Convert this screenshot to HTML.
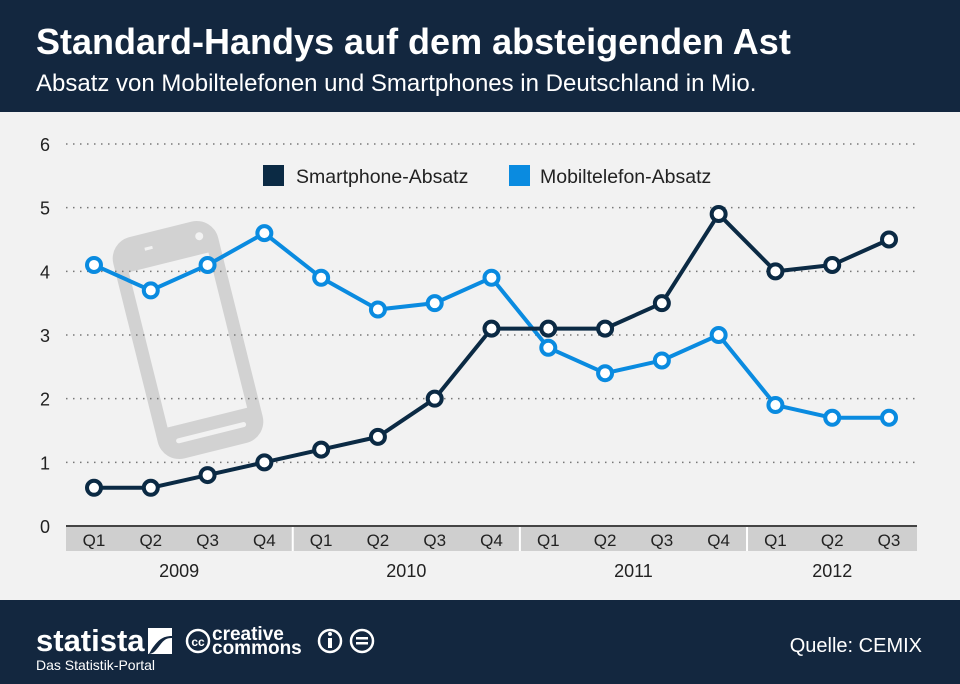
<!DOCTYPE html>
<html><head><meta charset="utf-8">
<style>
body{margin:0;width:960px;height:684px;overflow:hidden;background:#f2f2f2;font-family:"Liberation Sans",sans-serif}
svg{display:block}
</style></head><body>
<svg width="960" height="684">
<rect x="0" y="0" width="960" height="112" fill="#13273f"/>
<text x="36" y="54" fill="#fff" font-size="36" font-weight="bold">Standard-Handys auf dem absteigenden Ast</text>
<text x="36" y="91" fill="#fff" font-size="24">Absatz von Mobiltelefonen und Smartphones in Deutschland in Mio.</text>
<rect x="0" y="112" width="960" height="488" fill="#f2f2f2"/>
<g transform="translate(188,340) rotate(-14)">
<rect x="-54" y="-114" width="108" height="228" rx="22" fill="#d2d2d2"/>
<rect x="-41" y="-80" width="82" height="160" fill="#f2f2f2"/>
<rect x="-36" y="93" width="72" height="5" rx="2.5" fill="#f2f2f2"/>
<circle cx="36" cy="-98" r="4" fill="#f2f2f2"/>
<rect x="-20" y="-100" width="8" height="3" fill="#f2f2f2"/>
</g>
<g id="grid"></g>
<rect x="66" y="527" width="851" height="24" fill="#cfcfcf"/>
<line x1="66" y1="526" x2="917" y2="526" stroke="#444" stroke-width="2"/>
<g id="xaxis"></g>
<g id="series"></g>
<g>
<rect x="263" y="165" width="21" height="21" fill="#0b2a44"/>
<text x="296" y="183" font-size="19.5" fill="#222">Smartphone-Absatz</text>
<rect x="509" y="165" width="21" height="21" fill="#0a8be0"/>
<text x="540" y="183" font-size="19.5" fill="#222">Mobiltelefon-Absatz</text>
</g>
<rect x="0" y="600" width="960" height="84" fill="#13273f"/>
<text x="36" y="651" fill="#fff" font-size="31" font-weight="bold">statista</text>
<path d="M148 628h24v8c-10 0-14 5-18 10s-4 8-6 8zM172 638v16h-24c6 0 8-4 12-9s6-7 12-7z" fill="#fff"/>
<text x="36" y="670" fill="#fff" font-size="14">Das Statistik-Portal</text>
<circle cx="198" cy="641" r="11" fill="none" stroke="#fff" stroke-width="2.5"/>
<text x="198" y="646" text-anchor="middle" fill="#fff" font-size="12" font-weight="bold">cc</text>
<text x="212" y="640" fill="#fff" font-size="19" font-weight="bold">creative</text>
<text x="212" y="654" fill="#fff" font-size="19" font-weight="bold">commons</text>
<circle cx="330" cy="641" r="11" fill="none" stroke="#fff" stroke-width="2.5"/>
<rect x="328" y="638" width="4" height="10" fill="#fff"/><circle cx="330" cy="634" r="2" fill="#fff"/>
<circle cx="362" cy="641" r="11" fill="none" stroke="#fff" stroke-width="2.5"/>
<rect x="356" y="637" width="12" height="2.5" fill="#fff"/><rect x="356" y="642" width="12" height="2.5" fill="#fff"/>
<text x="922" y="652" text-anchor="end" fill="#fff" font-size="20">Quelle: CEMIX</text>
</svg>
<script>
const categories=["Q1","Q2","Q3","Q4","Q1","Q2","Q3","Q4","Q1","Q2","Q3","Q4","Q1","Q2","Q3"];
const years=["2009","2010","2011","2012"];
const smartphone=[0.6,0.6,0.8,1.0,1.2,1.4,2.0,3.1,3.1,3.1,3.5,4.9,4.0,4.1,4.5];
const mobile=[4.1,3.7,4.1,4.6,3.9,3.4,3.5,3.9,2.8,2.4,2.6,3.0,1.9,1.7,1.7];
const yTicks=[0,1,2,3,4,5,6];
const NS="http://www.w3.org/2000/svg";
const xs=i=>94+i*(889-94)/14;
const ys=v=>526-v*(526-144)/6;
function mk(t,a,p){const e=document.createElementNS(NS,t);for(const k in a)e.setAttribute(k,a[k]);p.appendChild(e);return e;}
const grid=document.getElementById('grid');
yTicks.forEach(v=>{
 if(v>0){const l=mk('line',{x1:66,x2:917,y1:ys(v),y2:ys(v),stroke:'#777','stroke-width':1.5,'stroke-dasharray':'1.5 5.5'},grid);
 
 }
 const t=mk('text',{x:45,y:ys(v)+7,'text-anchor':'middle','font-size':18,fill:'#222'},grid);t.textContent=v;
 
 
});
const xa=document.getElementById('xaxis');
categories.forEach((c,i)=>{
 const t=mk('text',{x:xs(i),y:546,'text-anchor':'middle','font-size':17,fill:'#222'},xa);t.textContent=c;
 
 
 if(i%4===3&&i<categories.length-1){mk('line',{x1:(xs(i)+xs(i+1))/2,x2:(xs(i)+xs(i+1))/2,y1:527,y2:551,stroke:'#fff','stroke-width':2},xa);}
});
years.forEach((y,k)=>{
 const a=k*4,b=Math.min(a+3,categories.length-1);
 const t=mk('text',{x:(xs(a)+xs(b))/2,y:577,'text-anchor':'middle','font-size':18,fill:'#222'},xa);t.textContent=y;
 
 
});
const sg=document.getElementById('series');
function draw(data,color,name){
 const p=mk('polyline',{points:data.map((v,i)=>xs(i)+','+ys(v)).join(' '),fill:'none',stroke:color,'stroke-width':4,'stroke-linejoin':'round'},sg);
 
 
 data.forEach((v,i)=>{const c=mk('circle',{cx:xs(i),cy:ys(v),r:7,fill:'#fff',stroke:color,'stroke-width':4},sg);
 
 });
}
draw(mobile,'#0a8be0','mobile');
draw(smartphone,'#0b2a44','smartphone');
</script>
</body></html>
